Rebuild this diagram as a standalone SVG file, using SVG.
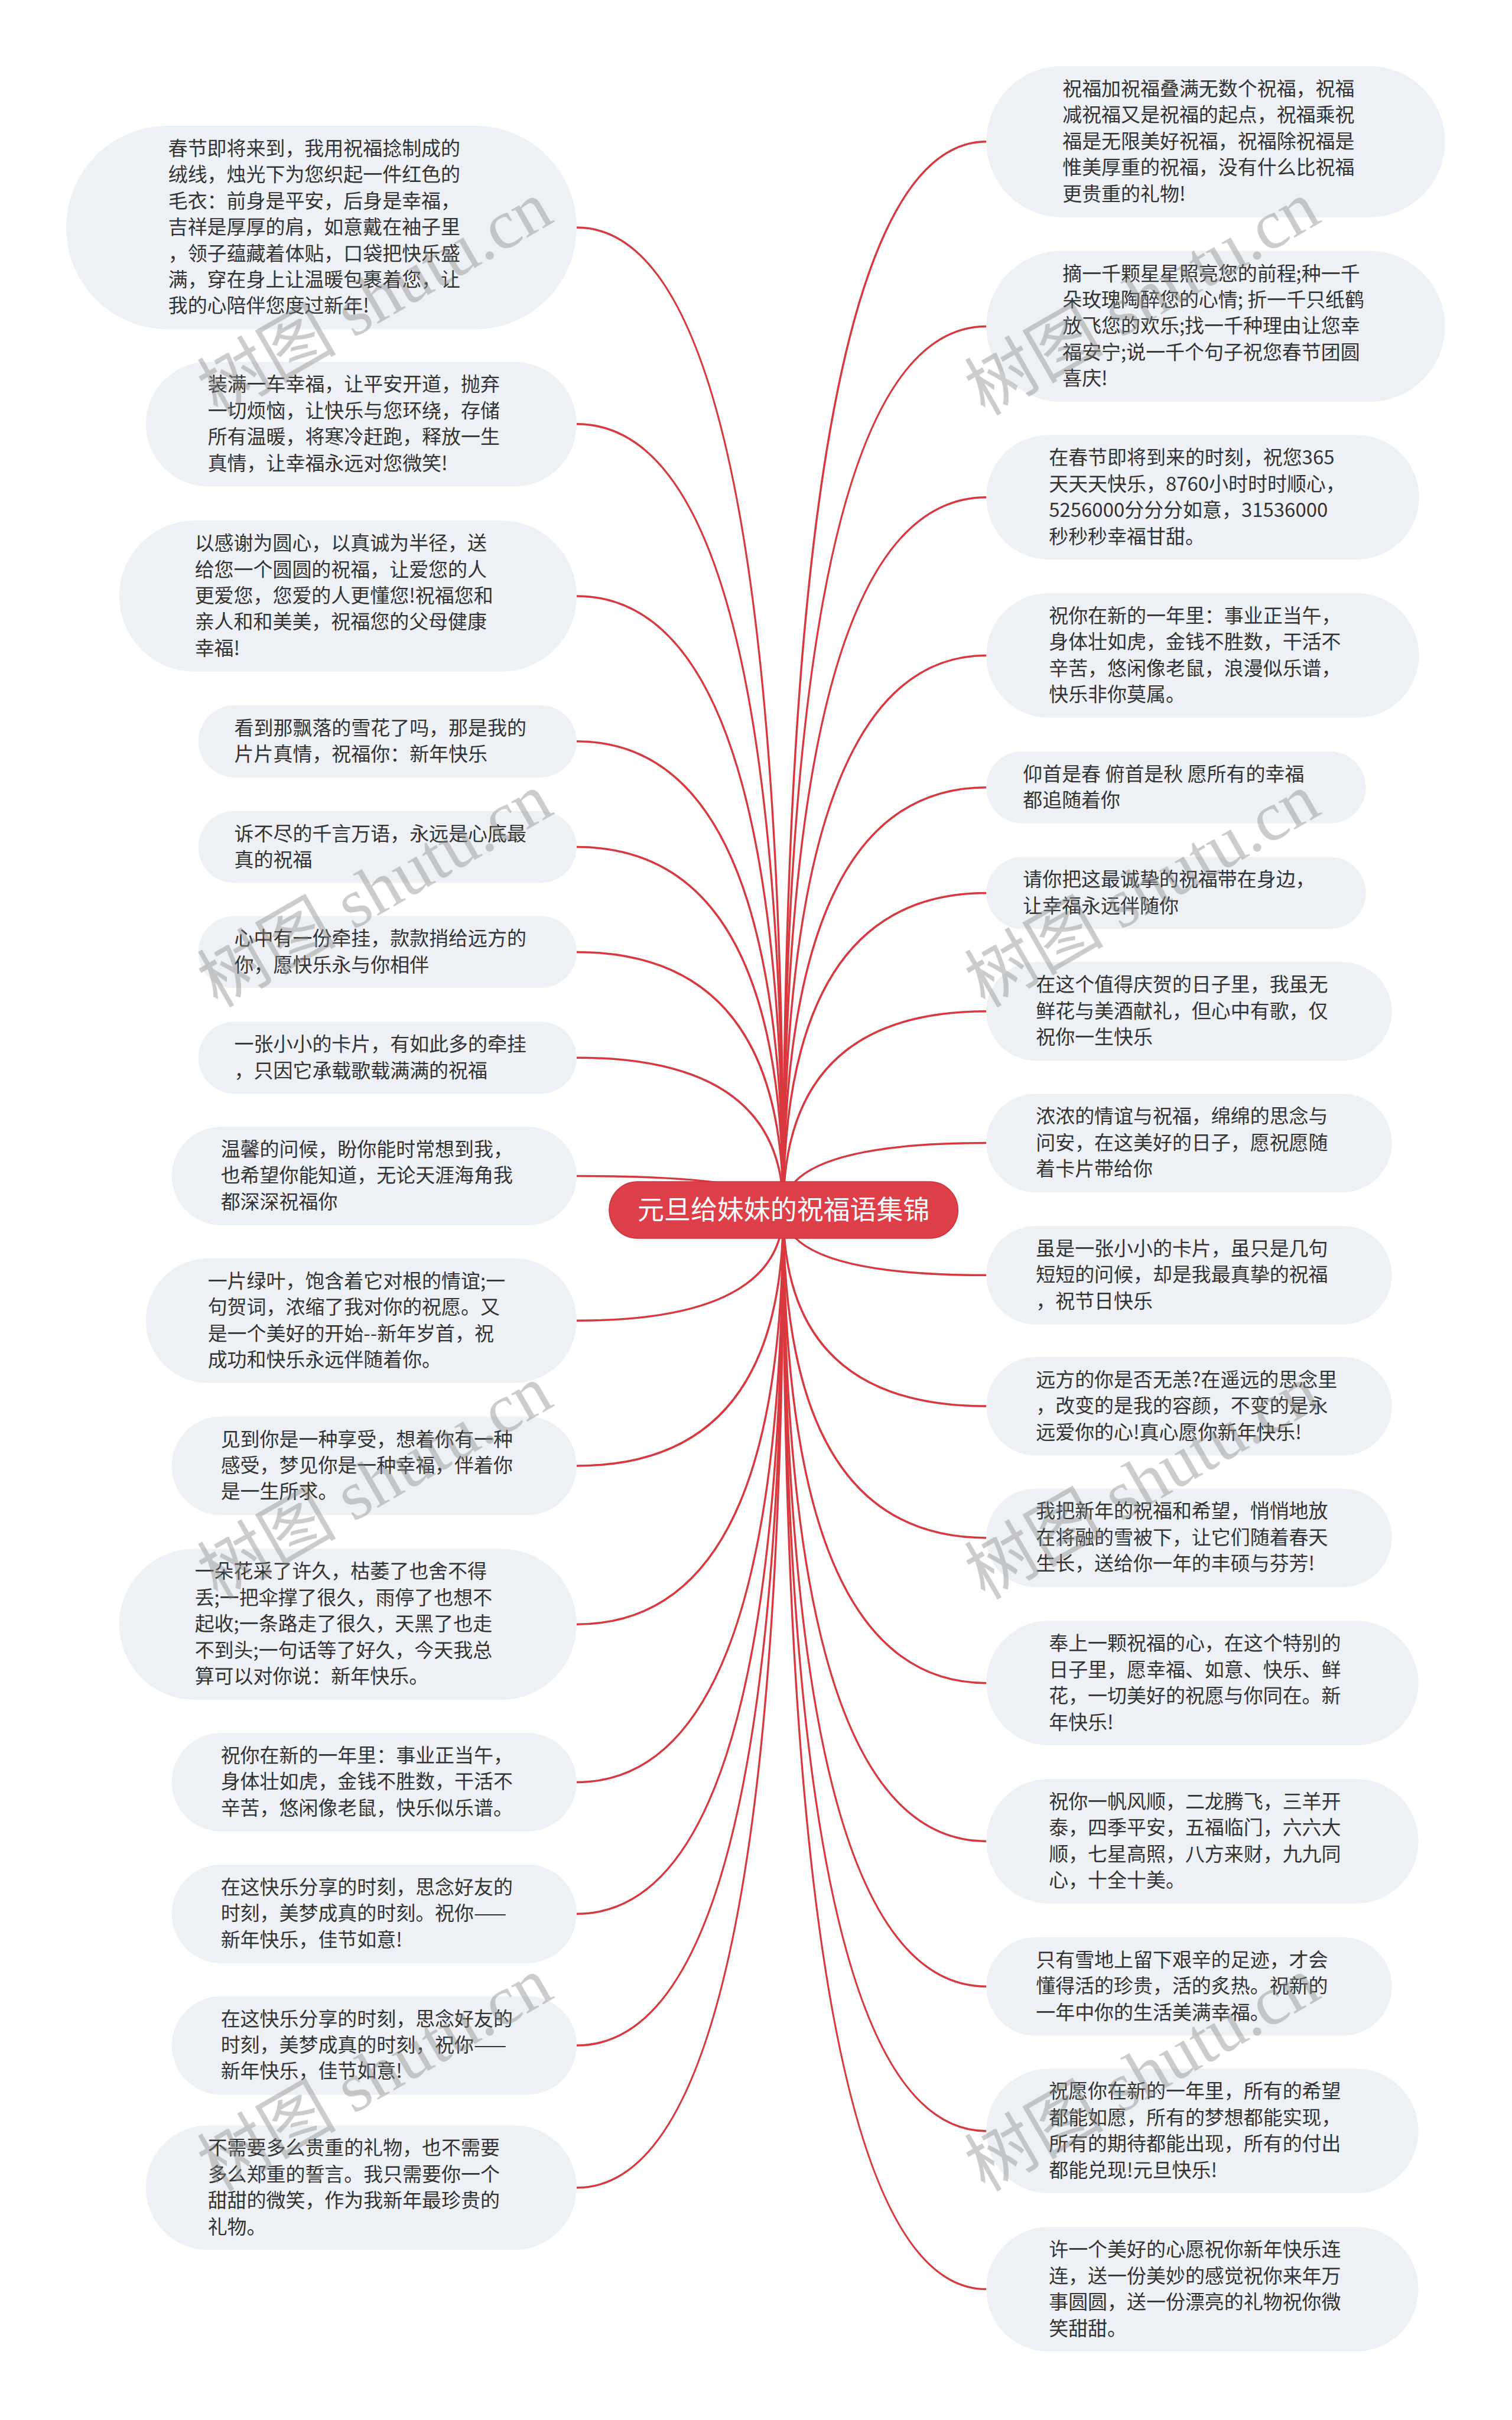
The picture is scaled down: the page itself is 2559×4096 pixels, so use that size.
<svg xmlns="http://www.w3.org/2000/svg" width="2559" height="4096" viewBox="0 0 2559 4096">
<style>
.n{fill:#edf0f4}
.t{font-family:"Noto Sans CJK SC","Liberation Sans",sans-serif;font-size:33px;fill:#333}
.c{fill:none;stroke:#d8393f;stroke-width:3.5}
.r{fill:#dd4048;stroke:#cf3139;stroke-width:1.5}
.rt{font-family:"Noto Sans CJK SC","Liberation Sans",sans-serif;font-size:45px;fill:#fff}
.wm{font-family:"Liberation Serif","Noto Sans CJK SC",serif;font-size:118px;fill:#888;opacity:0.42}
</style>
<rect width="2559" height="4096" fill="#fff"/>
<g transform="scale(0.999)">
<g id="connectors">
<path class="c" d="M1327,2050 Q1327,385.5 977,385.5"/>
<path class="c" d="M1327,2050 Q1327,718.5 977,718.5"/>
<path class="c" d="M1327,2050 Q1327,1010 977,1010"/>
<path class="c" d="M1327,2050 Q1327,1256 977,1256"/>
<path class="c" d="M1327,2050 Q1327,1435 977,1435"/>
<path class="c" d="M1327,2050 Q1327,1613 977,1613"/>
<path class="c" d="M1327,2050 Q1327,1792 977,1792"/>
<path class="c" d="M1327,2050 Q1327,1992.5 977,1992.5"/>
<path class="c" d="M1327,2050 Q1327,2237.5 977,2237.5"/>
<path class="c" d="M1327,2050 Q1327,2483.5 977,2483.5"/>
<path class="c" d="M1327,2050 Q1327,2752 977,2752"/>
<path class="c" d="M1327,2050 Q1327,3019.5 977,3019.5"/>
<path class="c" d="M1327,2050 Q1327,3242.5 977,3242.5"/>
<path class="c" d="M1327,2050 Q1327,3465.5 977,3465.5"/>
<path class="c" d="M1327,2050 Q1327,3706.5 977,3706.5"/>
<path class="c" d="M1327,2050 Q1327,240 1671,240"/>
<path class="c" d="M1327,2050 Q1327,553 1671,553"/>
<path class="c" d="M1327,2050 Q1327,842.5 1671,842.5"/>
<path class="c" d="M1327,2050 Q1327,1110.5 1671,1110.5"/>
<path class="c" d="M1327,2050 Q1327,1334 1671,1334"/>
<path class="c" d="M1327,2050 Q1327,1513 1671,1513"/>
<path class="c" d="M1327,2050 Q1327,1713.5 1671,1713.5"/>
<path class="c" d="M1327,2050 Q1327,1936.5 1671,1936.5"/>
<path class="c" d="M1327,2050 Q1327,2160.5 1671,2160.5"/>
<path class="c" d="M1327,2050 Q1327,2382.5 1671,2382.5"/>
<path class="c" d="M1327,2050 Q1327,2605.5 1671,2605.5"/>
<path class="c" d="M1327,2050 Q1327,2851.5 1671,2851.5"/>
<path class="c" d="M1327,2050 Q1327,3119.5 1671,3119.5"/>
<path class="c" d="M1327,2050 Q1327,3365.5 1671,3365.5"/>
<path class="c" d="M1327,2050 Q1327,3610.5 1671,3610.5"/>
<path class="c" d="M1327,2050 Q1327,3878.5 1671,3878.5"/>
</g>
<g id="root">
<rect class="r" x="1032" y="2002" width="591" height="96" rx="48"/>
<text class="rt" x="1327.5" y="2066" text-anchor="middle">元旦给妹妹的祝福语集锦</text>
</g>
<g id="L1"><rect class="n" x="112" y="213" width="865" height="345" rx="172.5"/>
<text class="t" x="285" y="263"><tspan x="285">春节即将来到，我用祝福捻制成的</tspan><tspan x="285" dy="44.5">绒线，烛光下为您织起一件红色的</tspan><tspan x="285" dy="44.5">毛衣：前身是平安，后身是幸福，</tspan><tspan x="285" dy="44.5">吉祥是厚厚的肩，如意戴在袖子里</tspan><tspan x="285" dy="44.5">，领子蕴藏着体贴，口袋把快乐盛</tspan><tspan x="285" dy="44.5">满，穿在身上让温暖包裹着您，让</tspan><tspan x="285" dy="44.5">我的心陪伴您度过新年!</tspan></text></g>
<g id="L2"><rect class="n" x="247" y="613" width="730" height="211" rx="105.5"/>
<text class="t" y="663"><tspan x="352">装满一车幸福，让平安开道，抛弃</tspan><tspan x="352" dy="44.5">一切烦恼，让快乐与您环绕，存储</tspan><tspan x="352" dy="44.5">所有温暖，将寒冷赶跑，释放一生</tspan><tspan x="352" dy="44.5">真情，让幸福永远对您微笑!</tspan></text></g>
<g id="L3"><rect class="n" x="202" y="882" width="775" height="256" rx="128"/>
<text class="t" y="932"><tspan x="330">以感谢为圆心，以真诚为半径，送</tspan><tspan x="330" dy="44.5">给您一个圆圆的祝福，让爱您的人</tspan><tspan x="330" dy="44.5">更爱您，您爱的人更懂您!祝福您和</tspan><tspan x="330" dy="44.5">亲人和和美美，祝福您的父母健康</tspan><tspan x="330" dy="44.5">幸福!</tspan></text></g>
<g id="L4"><rect class="n" x="336" y="1195" width="641" height="122" rx="61"/>
<text class="t" y="1245"><tspan x="397">看到那飘落的雪花了吗，那是我的</tspan><tspan x="397" dy="44.5">片片真情，祝福你：新年快乐</tspan></text></g>
<g id="L5"><rect class="n" x="336" y="1374" width="641" height="122" rx="61"/>
<text class="t" y="1424"><tspan x="397">诉不尽的千言万语，永远是心底最</tspan><tspan x="397" dy="44.5">真的祝福</tspan></text></g>
<g id="L6"><rect class="n" x="336" y="1552" width="641" height="122" rx="61"/>
<text class="t" y="1602"><tspan x="397">心中有一份牵挂，款款捎给远方的</tspan><tspan x="397" dy="44.5">你，愿快乐永与你相伴</tspan></text></g>
<g id="L7"><rect class="n" x="336" y="1731" width="641" height="122" rx="61"/>
<text class="t" y="1781"><tspan x="397">一张小小的卡片，有如此多的牵挂</tspan><tspan x="397" dy="44.5">，只因它承载歌载满满的祝福</tspan></text></g>
<g id="L8"><rect class="n" x="291" y="1909" width="686" height="167" rx="83.5"/>
<text class="t" y="1959"><tspan x="374">温馨的问候，盼你能时常想到我，</tspan><tspan x="374" dy="44.5">也希望你能知道，无论天涯海角我</tspan><tspan x="374" dy="44.5">都深深祝福你</tspan></text></g>
<g id="L9"><rect class="n" x="247" y="2132" width="730" height="211" rx="105.5"/>
<text class="t" y="2182"><tspan x="352">一片绿叶，饱含着它对根的情谊;一</tspan><tspan x="352" dy="44.5">句贺词，浓缩了我对你的祝愿。又</tspan><tspan x="352" dy="44.5">是一个美好的开始--新年岁首，祝</tspan><tspan x="352" dy="44.5">成功和快乐永远伴随着你。</tspan></text></g>
<g id="L10"><rect class="n" x="291" y="2400" width="686" height="167" rx="83.5"/>
<text class="t" y="2450"><tspan x="374">见到你是一种享受，想着你有一种</tspan><tspan x="374" dy="44.5">感受，梦见你是一种幸福，伴着你</tspan><tspan x="374" dy="44.5">是一生所求。</tspan></text></g>
<g id="L11"><rect class="n" x="202" y="2624" width="775" height="256" rx="128"/>
<text class="t" y="2674"><tspan x="330">一朵花采了许久，枯萎了也舍不得</tspan><tspan x="330" dy="44.5">丢;一把伞撑了很久，雨停了也想不</tspan><tspan x="330" dy="44.5">起收;一条路走了很久，天黑了也走</tspan><tspan x="330" dy="44.5">不到头;一句话等了好久，今天我总</tspan><tspan x="330" dy="44.5">算可以对你说：新年快乐。</tspan></text></g>
<g id="L12"><rect class="n" x="291" y="2936" width="686" height="167" rx="83.5"/>
<text class="t" y="2986"><tspan x="374">祝你在新的一年里：事业正当午，</tspan><tspan x="374" dy="44.5">身体壮如虎，金钱不胜数，干活不</tspan><tspan x="374" dy="44.5">辛苦，悠闲像老鼠，快乐似乐谱。</tspan></text></g>
<g id="L13"><rect class="n" x="291" y="3159" width="686" height="167" rx="83.5"/>
<text class="t" y="3209"><tspan x="374">在这快乐分享的时刻，思念好友的</tspan><tspan x="374" dy="44.5">时刻，美梦成真的时刻。祝你——</tspan><tspan x="374" dy="44.5">新年快乐，佳节如意!</tspan></text></g>
<g id="L14"><rect class="n" x="291" y="3382" width="686" height="167" rx="83.5"/>
<text class="t" y="3432"><tspan x="374">在这快乐分享的时刻，思念好友的</tspan><tspan x="374" dy="44.5">时刻，美梦成真的时刻，祝你——</tspan><tspan x="374" dy="44.5">新年快乐，佳节如意!</tspan></text></g>
<g id="L15"><rect class="n" x="247" y="3601" width="730" height="211" rx="105.5"/>
<text class="t" y="3651"><tspan x="352">不需要多么贵重的礼物，也不需要</tspan><tspan x="352" dy="44.5">多么郑重的誓言。我只需要你一个</tspan><tspan x="352" dy="44.5">甜甜的微笑，作为我新年最珍贵的</tspan><tspan x="352" dy="44.5">礼物。</tspan></text></g>
<g id="R1"><rect class="n" x="1671" y="112" width="777" height="256" rx="128"/>
<text class="t" y="162"><tspan x="1800">祝福加祝福叠满无数个祝福，祝福</tspan><tspan x="1800" dy="44.5">减祝福又是祝福的起点，祝福乘祝</tspan><tspan x="1800" dy="44.5">福是无限美好祝福，祝福除祝福是</tspan><tspan x="1800" dy="44.5">惟美厚重的祝福，没有什么比祝福</tspan><tspan x="1800" dy="44.5">更贵重的礼物!</tspan></text></g>
<g id="R2"><rect class="n" x="1671" y="425" width="777" height="256" rx="128"/>
<text class="t" y="475"><tspan x="1800">摘一千颗星星照亮您的前程;种一千</tspan><tspan x="1800" dy="44.5">朵玫瑰陶醉您的心情; 折一千只纸鹤</tspan><tspan x="1800" dy="44.5">放飞您的欢乐;找一千种理由让您幸</tspan><tspan x="1800" dy="44.5">福安宁;说一千个句子祝您春节团圆</tspan><tspan x="1800" dy="44.5">喜庆!</tspan></text></g>
<g id="R3"><rect class="n" x="1671" y="737" width="733" height="211" rx="105.5"/>
<text class="t" y="787"><tspan x="1777">在春节即将到来的时刻，祝您365</tspan><tspan x="1777" dy="44.5">天天天快乐，8760小时时时顺心，</tspan><tspan x="1777" dy="44.5">5256000分分分如意，31536000</tspan><tspan x="1777" dy="44.5">秒秒秒幸福甘甜。</tspan></text></g>
<g id="R4"><rect class="n" x="1671" y="1005" width="733" height="211" rx="105.5"/>
<text class="t" y="1055"><tspan x="1777">祝你在新的一年里：事业正当午，</tspan><tspan x="1777" dy="44.5">身体壮如虎，金钱不胜数，干活不</tspan><tspan x="1777" dy="44.5">辛苦，悠闲像老鼠，浪漫似乐谱，</tspan><tspan x="1777" dy="44.5">快乐非你莫属。</tspan></text></g>
<g id="R5"><rect class="n" x="1671" y="1273" width="643" height="122" rx="61"/>
<text class="t" y="1323"><tspan x="1733">仰首是春 俯首是秋 愿所有的幸福</tspan><tspan x="1733" dy="44.5">都追随着你</tspan></text></g>
<g id="R6"><rect class="n" x="1671" y="1452" width="643" height="122" rx="61"/>
<text class="t" y="1502"><tspan x="1733">请你把这最诚挚的祝福带在身边，</tspan><tspan x="1733" dy="44.5">让幸福永远伴随你</tspan></text></g>
<g id="R7"><rect class="n" x="1671" y="1630" width="687" height="167" rx="83.5"/>
<text class="t" y="1680"><tspan x="1755">在这个值得庆贺的日子里，我虽无</tspan><tspan x="1755" dy="44.5">鲜花与美酒献礼，但心中有歌，仅</tspan><tspan x="1755" dy="44.5">祝你一生快乐</tspan></text></g>
<g id="R8"><rect class="n" x="1671" y="1853" width="687" height="167" rx="83.5"/>
<text class="t" y="1903"><tspan x="1755">浓浓的情谊与祝福，绵绵的思念与</tspan><tspan x="1755" dy="44.5">问安，在这美好的日子，愿祝愿随</tspan><tspan x="1755" dy="44.5">着卡片带给你</tspan></text></g>
<g id="R9"><rect class="n" x="1671" y="2077" width="687" height="167" rx="83.5"/>
<text class="t" y="2127"><tspan x="1755">虽是一张小小的卡片，虽只是几句</tspan><tspan x="1755" dy="44.5">短短的问候，却是我最真挚的祝福</tspan><tspan x="1755" dy="44.5">，祝节日快乐</tspan></text></g>
<g id="R10"><rect class="n" x="1671" y="2299" width="687" height="167" rx="83.5"/>
<text class="t" y="2349"><tspan x="1755">远方的你是否无恙?在遥远的思念里</tspan><tspan x="1755" dy="44.5">，改变的是我的容颜，不变的是永</tspan><tspan x="1755" dy="44.5">远爱你的心!真心愿你新年快乐!</tspan></text></g>
<g id="R11"><rect class="n" x="1671" y="2522" width="687" height="167" rx="83.5"/>
<text class="t" y="2572"><tspan x="1755">我把新年的祝福和希望，悄悄地放</tspan><tspan x="1755" dy="44.5">在将融的雪被下，让它们随着春天</tspan><tspan x="1755" dy="44.5">生长，送给你一年的丰硕与芬芳!</tspan></text></g>
<g id="R12"><rect class="n" x="1671" y="2746" width="732" height="211" rx="105.5"/>
<text class="t" y="2796"><tspan x="1777">奉上一颗祝福的心，在这个特别的</tspan><tspan x="1777" dy="44.5">日子里，愿幸福、如意、快乐、鲜</tspan><tspan x="1777" dy="44.5">花，一切美好的祝愿与你同在。新</tspan><tspan x="1777" dy="44.5">年快乐!</tspan></text></g>
<g id="R13"><rect class="n" x="1671" y="3014" width="732" height="211" rx="105.5"/>
<text class="t" y="3064"><tspan x="1777">祝你一帆风顺，二龙腾飞，三羊开</tspan><tspan x="1777" dy="44.5">泰，四季平安，五福临门，六六大</tspan><tspan x="1777" dy="44.5">顺，七星高照，八方来财，九九同</tspan><tspan x="1777" dy="44.5">心，十全十美。</tspan></text></g>
<g id="R14"><rect class="n" x="1671" y="3282" width="687" height="167" rx="83.5"/>
<text class="t" y="3332"><tspan x="1755">只有雪地上留下艰辛的足迹，才会</tspan><tspan x="1755" dy="44.5">懂得活的珍贵，活的炙热。祝新的</tspan><tspan x="1755" dy="44.5">一年中你的生活美满幸福。</tspan></text></g>
<g id="R15"><rect class="n" x="1671" y="3505" width="732" height="211" rx="105.5"/>
<text class="t" y="3555"><tspan x="1777">祝愿你在新的一年里，所有的希望</tspan><tspan x="1777" dy="44.5">都能如愿，所有的梦想都能实现，</tspan><tspan x="1777" dy="44.5">所有的期待都能出现，所有的付出</tspan><tspan x="1777" dy="44.5">都能兑现!元旦快乐!</tspan></text></g>
<g id="R16"><rect class="n" x="1671" y="3773" width="732" height="211" rx="105.5"/>
<text class="t" y="3823"><tspan x="1777">许一个美好的心愿祝你新年快乐连</tspan><tspan x="1777" dy="44.5">连，送一份美妙的感觉祝你来年万</tspan><tspan x="1777" dy="44.5">事圆圆，送一份漂亮的礼物祝你微</tspan><tspan x="1777" dy="44.5">笑甜甜。</tspan></text></g>
<g id="watermarks">
<text class="wm" transform="translate(655,540) rotate(-30)" text-anchor="middle">树图 shutu.cn</text>
<text class="wm" transform="translate(655,1543) rotate(-30)" text-anchor="middle">树图 shutu.cn</text>
<text class="wm" transform="translate(655,2546) rotate(-30)" text-anchor="middle">树图 shutu.cn</text>
<text class="wm" transform="translate(655,3549) rotate(-30)" text-anchor="middle">树图 shutu.cn</text>
<text class="wm" transform="translate(1955,540) rotate(-30)" text-anchor="middle">树图 shutu.cn</text>
<text class="wm" transform="translate(1955,1543) rotate(-30)" text-anchor="middle">树图 shutu.cn</text>
<text class="wm" transform="translate(1955,2546) rotate(-30)" text-anchor="middle">树图 shutu.cn</text>
<text class="wm" transform="translate(1955,3549) rotate(-30)" text-anchor="middle">树图 shutu.cn</text>
</g>
</g>
</svg>
